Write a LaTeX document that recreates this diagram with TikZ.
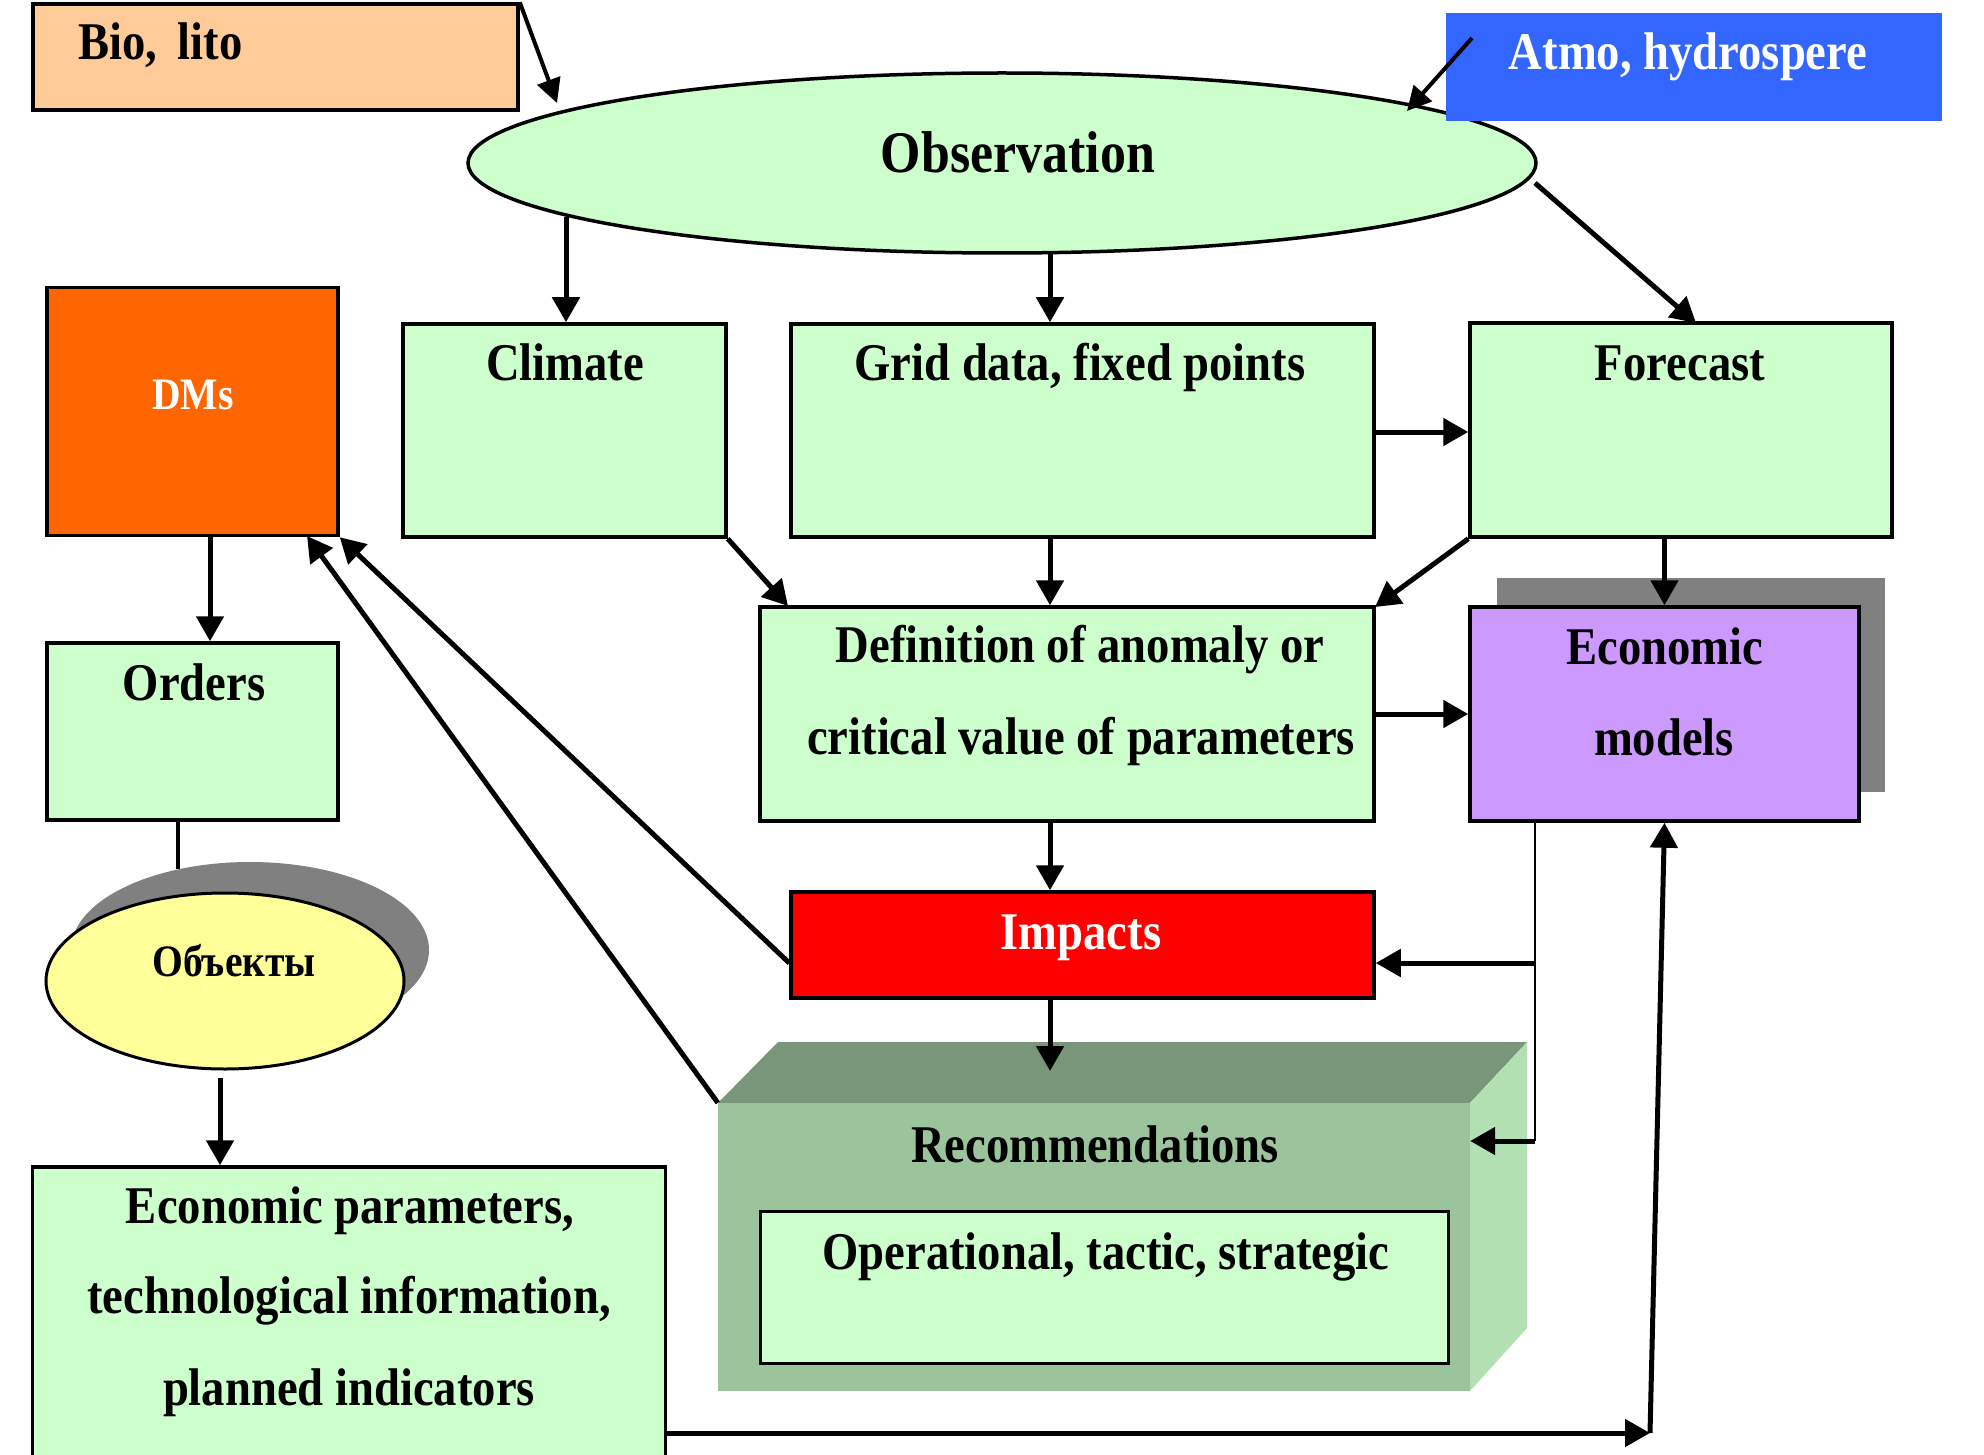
\documentclass[tikz,border=0pt]{standalone}
\usepackage{fontspec}
\setmainfont{Liberation Serif}[FakeStretch=0.88]
\usetikzlibrary{arrows.meta,shapes.geometric}
\definecolor{lgreen}{HTML}{CCFFCC}
\definecolor{peach}{HTML}{FFCC99}
\definecolor{atmoblue}{HTML}{3366FF}
\definecolor{dmorange}{HTML}{FF6600}
\definecolor{ecopurple}{HTML}{CC99FF}
\definecolor{impred}{HTML}{FF0000}
\definecolor{objyellow}{HTML}{FFFF99}
\definecolor{shadowgray}{HTML}{808080}
\definecolor{recfront}{HTML}{9CC49C}
\definecolor{rectop}{HTML}{7A967A}
\definecolor{recside}{HTML}{B3E0B3}
\newcommand\fsz[1]{\fontsize{#1}{#1}\selectfont}
\tikzset{
  box/.style={draw=black, line width=3.5pt, fill=lgreen, rectangle, inner sep=0pt},
  plain/.style={rectangle, inner sep=0pt, draw=none},
  arr/.style={line width=5pt, -{Triangle[length=25pt,width=27pt]}},
  arrthin/.style={line width=4pt, -{Triangle[length=24pt,width=24pt]}},
  thinline/.style={line width=2.5pt},
  txt/.style={anchor=base, inner sep=0pt, font=\bfseries\fsz{53}},
  smalltxt/.style={anchor=base, inner sep=0pt, font=\bfseries\fsz{45}},
}
\begin{document}
\begin{tikzpicture}[x=1pt,y=-1pt]
\useasboundingbox (0,0) rectangle (1984,1455);
\clip (0,0) rectangle (1984,1455);

% shadows
\node[plain, fill=shadowgray, minimum width=388, minimum height=214] (econshadow) at (1691,685) {};
\node[ellipse, fill=shadowgray, inner sep=0pt, minimum width=358, minimum height=176] (objshadow) at (250,950) {};

% boxes
\node[box, fill=peach, minimum width=485, minimum height=106] (bio) at (275.5,57) {};
\node[ellipse, draw=black, line width=3.5pt, fill=lgreen, inner sep=0pt, minimum width=1068, minimum height=180] (obs) at (1002,163) {};
\node[plain, fill=atmoblue, minimum width=496, minimum height=108] (atmo) at (1694,67) {};
\node[box, fill=dmorange, minimum width=291, minimum height=248] (dms) at (192.5,411.5) {};
\node[box, minimum width=323, minimum height=213] (climate) at (564.5,430.5) {};
\node[box, minimum width=583, minimum height=213] (grid) at (1082.5,430.5) {};
\node[box, minimum width=422, minimum height=214] (forecast) at (1681,430) {};
\node[box, minimum width=291, minimum height=177] (orders) at (192.5,731.5) {};
\node[box, minimum width=614, minimum height=214] (defin) at (1067,714) {};
\node[box, fill=ecopurple, minimum width=389, minimum height=214] (econ) at (1664.5,714) {};
\node[box, fill=impred, minimum width=583, minimum height=106] (impacts) at (1082.5,945) {};
\node[ellipse, draw=black, line width=3pt, fill=objyellow, inner sep=0pt, minimum width=358, minimum height=176] (objects) at (225,981) {};
\node[box, minimum width=633, minimum height=313] (ep) at (349,1323.5) {};

% recommendations 3D box
\fill[rectop] (718,1103) -- (778,1042) -- (1527,1042) -- (1470,1103) -- cycle;
\fill[recside] (1470,1103) -- (1527,1042) -- (1527,1328) -- (1470,1391) -- cycle;
\node[plain, fill=recfront, minimum width=752, minimum height=288] (rec) at (1094,1247) {};
\node[box, line width=3pt, minimum width=688, minimum height=152] (opbox) at (1104,1287) {};

% helper coordinates
\coordinate (bioTip) at (557,103);
\coordinate (atmoStart) at (1472,38);
\coordinate (atmoTip) at (1407,111);
\coordinate (oc) at (566,217);
\coordinate (og) at (1050,252);
\coordinate (of1) at (1535,183);
\coordinate (of2) at (1696,323);
\coordinate (gf) at (1420,432);
\coordinate (cdTip) at (788,606);
\coordinate (fdTip) at (1375,607);
\coordinate (j1) at (1535,963);
\coordinate (j2) at (1535,1141);
\coordinate (b1) at (1650,1433);
\coordinate (o1) at (178,869);
\coordinate (o2) at (220,1078);
\coordinate (d1) at (210,600);
\coordinate (dm2) at (307,536);
\coordinate (irTip) at (1050,1071);

% connectors
\draw[arrthin] (bio.north east) -- (bioTip);
\draw[arrthin] (atmoStart) -- (atmoTip);
\draw[arr] (oc) -- (oc |- climate.north);
\draw[arr] (og) -- (og |- grid.north);
\draw[arr] (of1) -- (of2);
\draw[arr] (gf -| grid.east) -- (gf -| forecast.west);
\draw[arr] (climate.south east) -- (cdTip);
\draw[arr] (og |- grid.south) -- (og |- defin.north);
\draw[arr] (forecast.south west) -- (fdTip);
\draw[arr] (econ.north |- forecast.south) -- (econ.north);
\draw[arr] (defin.east) -- (econ.west);
\draw[arr] (og |- defin.south) -- (og |- impacts.north);
\draw[arr] (og |- impacts.south) -- (irTip);
\draw[thinline] (j1 |- econ.south) -- (j2);
\draw[arr] (j1) -- (j1 -| impacts.east);
\draw[arr] (j2) -- (j2 -| rec.east);
\draw[arr] (j1 -| impacts.west) -- (dms.south east);
\draw[arr] (rec.north west) -- (dm2);
\draw[arr] (d1 |- dms.south) -- (d1 |- orders.north);
\draw[line width=4.5pt] (o1 |- orders.south) -- (o1);
\draw[arr] (o2) -- (o2 |- ep.north);
\draw[arr] (b1 -| ep.east) -- (b1);
\draw[arr] (b1) -- (econ.south);

% texts
\node[txt, anchor=base west] (tbio) at (78,60) {Bio,\, lito};
\node[txt, text=white] (tatmo) at (1688,70) {Atmo, hydrospere};
\node[txt, font=\bfseries\fsz{59}] (tobs) at (1018,173) {Observation};
\node[txt] (tclimate) at (565,381) {Climate};
\node[txt] (tgrid) at (1080,380) {Grid data, fixed points};
\node[txt] (tforecast) at (1680,381) {Forecast};
\node[smalltxt, text=white] (tdms) at (193,409) {DMs};
\node[txt] (torders) at (194,700) {Orders};
\node[txt] (tdef1) at (1080,662) {Definition of anomaly or};
\node[txt] (tdef2) at (1081,754) {critical value of parameters};
\node[txt] (tecon1) at (1665,664) {Economic};
\node[txt] (tecon2) at (1664,755) {models};
\node[txt, text=white] (timp) at (1081,949) {Impacts};
\node[smalltxt] (tobj) at (234,976) {Объекты};
\node[txt] (tep1) at (350,1223) {Economic parameters,};
\node[txt] (tep2) at (349,1313) {technological information,};
\node[txt] (tep3) at (349,1405) {planned indicators};
\node[txt] (trec) at (1095,1162) {Recommendations};
\node[txt] (top) at (1106,1269) {Operational, tactic, strategic};
\end{tikzpicture}
\end{document}
